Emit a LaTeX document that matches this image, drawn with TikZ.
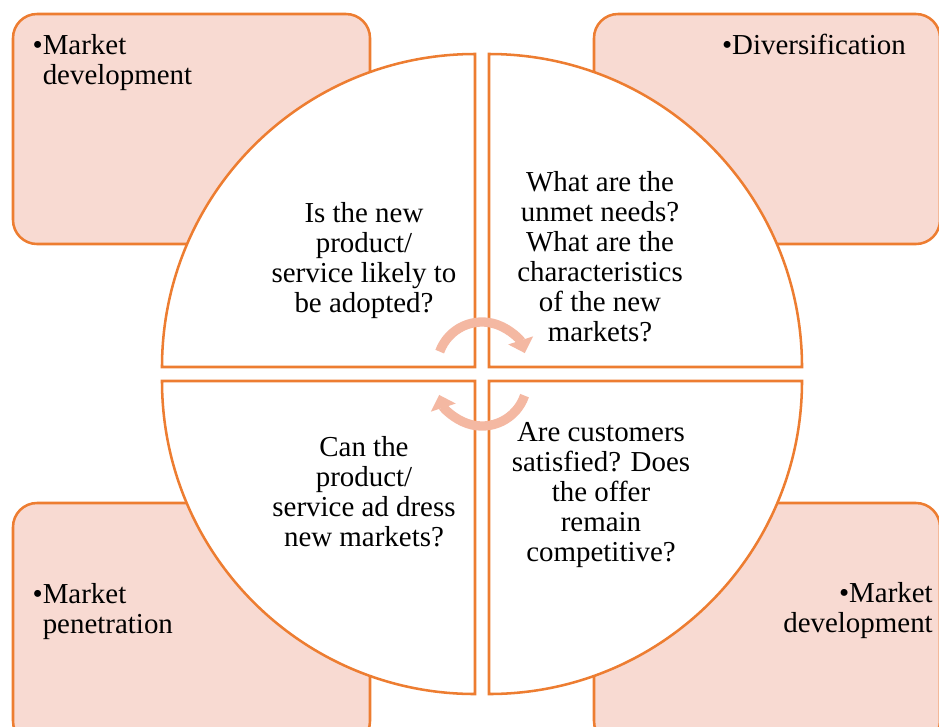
\documentclass[tikz,border=0pt]{standalone}
\usepackage{fontspec}
\setmainfont{Liberation Serif}
\usepackage{xcolor}
\usepackage{tikz}
\usetikzlibrary{arrows.meta}

\definecolor{accent}{HTML}{ED7D31}
\definecolor{tint}{HTML}{F8DAD2}
\definecolor{cyclecol}{HTML}{F4B8A2}

\begin{document}
\begin{tikzpicture}[
    x=0.75pt, y=-0.75pt,
    font=\fontsize{21.7}{22.5}\selectfont,
    corner/.style={draw=accent, line width=1.9pt, fill=tint, rounded corners=18pt},
    quarter/.style={draw=accent, line width=1.9pt, fill=white},
    question/.style={align=center, inner sep=0pt, anchor=north},
    bullet_left/.style={align=left, inner sep=0pt, anchor=north west},
    bullet_right/.style={align=right, inner sep=0pt, anchor=north east},
    cycle_arrow/.style={draw=cyclecol, line width=7pt, -{Triangle[length=10pt, width=19pt]}}
]
\useasboundingbox (0,0) rectangle (939,726);
\clip (0,0) rectangle (939,726);

% Corner boxes
\draw[corner] (13,14) rectangle (370,244);
\draw[corner] (594,14) rectangle (940,244);
\draw[corner] (13,503) rectangle (370,745);
\draw[corner] (594,503) rectangle (940,745);

% Circle quarters
\draw[quarter] (475,367) -- (162,367) arc[start angle=180, end angle=270, radius=313] -- cycle;
\draw[quarter] (489,367) -- (489,54) arc[start angle=270, end angle=360, radius=313] -- cycle;
\draw[quarter] (489,381) -- (802,381) arc[start angle=0, end angle=90, radius=313] -- cycle;
\draw[quarter] (475,381) -- (475,694) arc[start angle=90, end angle=180, radius=313] -- cycle;

% Cycle arrows
\draw[cycle_arrow] (482,367) ++(200:45) arc[start angle=200, end angle=342, radius=45];
\draw[cycle_arrow] (482,381) ++(19:45) arc[start angle=19, end angle=162, radius=45];

% Strategies
\node[bullet_left] (dev_top) at (42.5,34) {\llap{•}Market\\development};
\node[bullet_right] (divers) at (906,34) {•Diversification};
\node[bullet_left] (penetr) at (42.5,583) {\llap{•}Market\\penetration};
\node[bullet_right] (dev_bottom) at (933,582) {•Market\\development};

% Questions
\node[question] (adopt) at (364,202) {Is the new\\product/\\service likely to\\be adopted?};
\node[question] (needs) at (600,171) {What are the\\unmet needs?\\What are the\\characteristics\\of the new\\markets?};
\node[question] (address) at (364,436) {Can the\\product/\\service ad dress\\new markets?};
\node[question] (satisfied) at (601,422) {Are customers\\satisfied? Does\\the offer\\remain\\competitive?};

\end{tikzpicture}
\end{document}
